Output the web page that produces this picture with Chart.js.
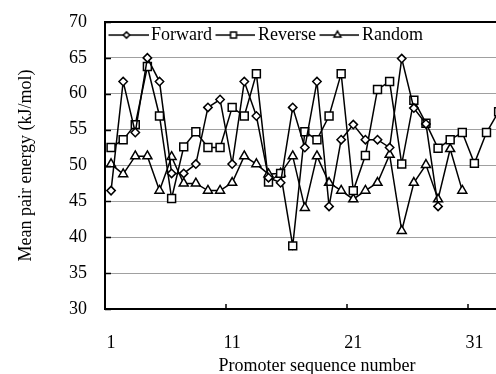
<!DOCTYPE html>
<html>
<head>
<meta charset="utf-8">
<script src="https://cdn.jsdelivr.net/npm/chart.js@4/dist/chart.umd.min.js"></script>
<style>
  html, body { margin: 0; padding: 0; background: #fff; overflow: hidden; }
  #wrap { width: 496px; height: 374px; overflow: hidden; }
</style>
</head>
<body>
<div id="wrap"><canvas id="chart" width="536" height="374"></canvas></div>
<script>
const sequenceNumbers = ['1','2','3','4','5','6','7','8','9','10','11','12','13','14','15','16','17','18',
  '19','20','21','22','23','24','25','26','27','28','29','30','31','32','33','34','35']
const xTickLabels = ['1', '11', '21', '31']

const forward = [46.5, 61.7, 54.6, 65.0, 61.7, 48.9, 48.9, 50.2, 58.1, 59.2, 50.2, 61.7, 56.9, 48.3,
  47.6, 58.1, 52.5, 61.7, 44.3, 53.6, 55.7, 53.6, 53.6, 52.5, 64.9, 58.0, 55.8, 44.3]
const reverse = [52.5, 53.6, 55.7, 63.8, 56.9, 45.4, 52.6, 54.7, 52.5, 52.5, 58.1, 56.9, 62.8, 47.7,
  48.9, 38.8, 54.7, 53.6, 56.9, 62.8, 46.5, 51.4, 60.6, 61.7, 50.2, 59.1, 55.9, 52.4, 53.6, 54.6,
  50.3, 54.6, 57.5]
const random = [50.2, 48.8, 51.3, 51.3, 46.5, 51.2, 47.5, 47.5, 46.5, 46.5, 47.6, 51.3, 50.2, 48.8,
  48.9, 51.3, 44.1, 51.3, 47.6, 46.5, 45.3, 46.5, 47.6, 51.5, 40.9, 47.6, 50.1, 45.3, 52.3, 46.5]

const seriesNames = ['Forward', 'Reverse', 'Random']
const markers = ['rectRot', 'rect', 'triangle']
const markerSizes = [4.2, 5.6, 5.2]

Chart.defaults.font.family = "'Liberation Serif', 'Times New Roman', serif"
Chart.defaults.font.size = 18
Chart.defaults.color = '#000'

// little line + marker picture for the legend
function legendSample(style, radius) {
  let c = document.createElement('canvas')
  c.width = 46
  c.height = 14
  let ctx = c.getContext('2d')
  ctx.strokeStyle = '#000'
  ctx.lineWidth = 1.5
  ctx.beginPath()
  ctx.moveTo(6, 7)
  ctx.lineTo(46, 7)
  ctx.stroke()
  ctx.fillStyle = '#fff'
  Chart.helpers.drawPoint(ctx, {pointStyle: style, radius: radius, borderWidth: 1.5}, 24, 7)
  return c
}

function makeDataset(i, values) {
  return {
    label: seriesNames[i],
    data: values,
    borderColor: '#000',
    borderWidth: 1.5,
    pointStyle: markers[i],
    pointRadius: markerSizes[i],
    pointHoverRadius: markerSizes[i],
    pointBackgroundColor: '#fff',
    pointBorderColor: '#000',
    pointBorderWidth: 1.5,
    tension: 0
  }
}

// legend sits inside the plot area, just under its top border
const legendInside = {
  id: 'legendInside',
  afterLayout(chart) {
    let lg = chart.legend
    let area = chart.chartArea
    lg.left = area.left
    lg.right = area.right
    lg.width = area.right - area.left
    lg.top = area.top
    lg.height = 30
    lg.bottom = area.top + 30
  }
}

// short tick marks pointing into the plot
const innerTicks = {
  id: 'innerTicks',
  afterDatasetsDraw(chart) {
    let ctx = chart.ctx
    let area = chart.chartArea
    let x = chart.scales.x
    let y = chart.scales.y
    ctx.save()
    ctx.strokeStyle = '#000'
    ctx.lineWidth = 1.5
    ctx.beginPath()
    y.ticks.forEach(function(t) {
      let py = Math.round(y.getPixelForValue(t.value)) + 0.5
      ctx.moveTo(area.left, py)
      ctx.lineTo(area.left + 6, py)
    })
    sequenceNumbers.forEach(function(label, i) {
      if (i > 0 && xTickLabels.includes(label)) {
        let px = Math.round((x.getPixelForValue(i - 1) + x.getPixelForValue(i)) / 2)
        ctx.moveTo(px, area.bottom)
        ctx.lineTo(px, area.bottom - 5)
      }
    })
    ctx.stroke()
    ctx.restore()
  }
}

const ctx = document.getElementById('chart').getContext('2d')
const chart = new Chart(ctx, {
  type: 'line',
  data: {
    labels: sequenceNumbers,
    datasets: [makeDataset(0, forward), makeDataset(1, reverse), makeDataset(2, random)]
  },
  options: {
    responsive: false,
    animation: false,
    layout: { padding: { top: 0, right: 5, bottom: 0, left: 0 } },
    plugins: {
      tooltip: { enabled: false },
      legend: {
        position: 'top',
        align: 'start',
        maxHeight: 0.01,
        labels: {
          usePointStyle: true,
          pointStyleWidth: 33,
          padding: 4,
          font: { size: 18 },
          color: '#000',
          generateLabels: function(chart) {
            return chart.data.datasets.map(function(ds, i) {
              return {
                text: ds.label,
                pointStyle: legendSample(markers[i], markerSizes[i] * 0.75),
                fillStyle: '#fff',
                strokeStyle: '#000',
                lineWidth: 0,
                fontColor: '#000',
                datasetIndex: i
              }
            })
          }
        }
      }
    },
    scales: {
      x: {
        type: 'category',
        offset: true,
        grid: {
          display: true,
          drawOnChartArea: false,
          drawTicks: true,
          tickLength: 20,
          color: 'rgba(0,0,0,0)',
          tickColor: 'rgba(0,0,0,0)'
        },
        border: { color: '#000', width: 2 },
        ticks: {
          autoSkip: false,
          maxRotation: 0,
          padding: 3,
          callback: function(value, index) {
            let label = sequenceNumbers[index]
            return xTickLabels.includes(label) ? label : ''
          }
        },
        title: {
          display: true,
          text: 'Promoter sequence number',
          padding: { top: 0, bottom: -3 }
        },
        afterFit: function(scale) { scale.height = 65 }
      },
      top: {
        type: 'linear',
        position: 'top',
        grid: { display: false, drawTicks: false },
        ticks: { display: false },
        border: { color: '#000', width: 2 },
        afterFit: function(scale) { scale.height = 22 }
      },
      y: {
        min: 30,
        max: 70,
        ticks: { stepSize: 5, padding: 3 },
        grid: {
          color: '#a0a0a0',
          lineWidth: 1,
          drawTicks: true,
          tickLength: 15,
          tickColor: 'rgba(0,0,0,0)'
        },
        border: { color: '#000', width: 2 },
        title: {
          display: true,
          text: 'Mean pair energy (kJ/mol)',
          padding: { top: 15, bottom: 0 }
        },
        afterFit: function(scale) { scale.width = 105 }
      }
    }
  },
  plugins: [legendInside, innerTicks]
})
</script>
</body>
</html>
